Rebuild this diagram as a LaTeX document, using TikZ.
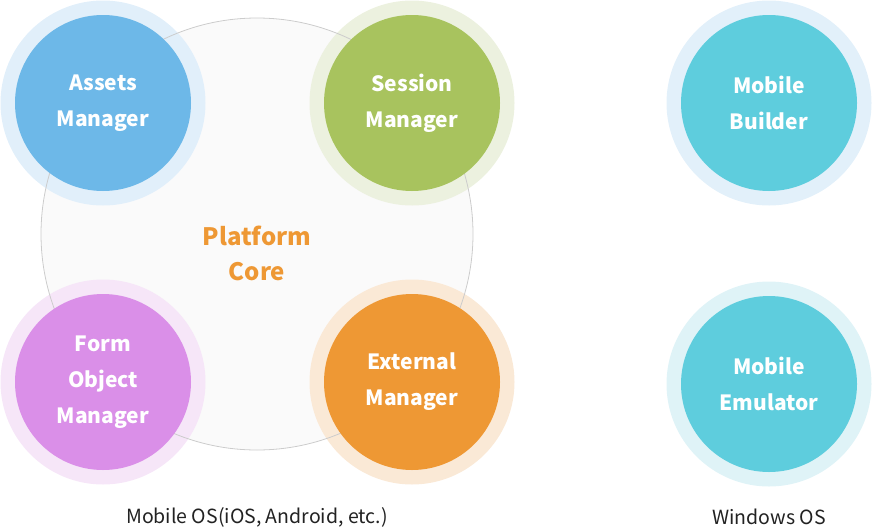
\documentclass[tikz,border=0pt]{standalone}
\usepackage{fontspec}
\setmainfont{Noto Sans CJK KR}
\usetikzlibrary{positioning}

\definecolor{assetsColor}{HTML}{6DB8E8}
\definecolor{assetsRing}{HTML}{E1EFFA}
\definecolor{sessionColor}{HTML}{A8C35E}
\definecolor{sessionRing}{HTML}{ECF1DF}
\definecolor{formColor}{HTML}{DA8FE8}
\definecolor{formRing}{HTML}{F6E6F8}
\definecolor{externalColor}{HTML}{EE9834}
\definecolor{externalRing}{HTML}{FAE9D6}
\definecolor{mobileColor}{HTML}{5ECDDD}
\definecolor{builderRing}{HTML}{E2F0FA}
\definecolor{emulatorRing}{HTML}{DFF3F7}
\definecolor{coreFill}{HTML}{FAFAFA}
\definecolor{coreLine}{HTML}{CCCCCC}
\definecolor{osText}{HTML}{222222}

\begin{document}
\begin{tikzpicture}[x=1pt,y=-1pt,
  ring/.style={circle, inner sep=0pt, minimum size=205pt},
  module/.style={circle, inner sep=0pt, minimum size=176pt, text=white,
    font=\fontsize{21}{36}\selectfont\bfseries, align=center},
  oslabel/.style={text=osText, font=\fontsize{19.5}{22}\selectfont}]

  \useasboundingbox (0,0) rectangle (872,528);

  % platform core
  \node[circle, inner sep=0pt, minimum size=432pt, fill=coreFill] (core) at (257,234) {};

  % outer rings
  \node[ring, fill=assetsRing] (assetsRing) at (103,103) {};
  \node[ring, fill=sessionRing] (sessionRing) at (412,103) {};
  \node[ring, fill=formRing] (formRing) at (103,382) {};
  \node[ring, fill=externalRing] (externalRing) at (412,382) {};
  \node[ring, fill=builderRing] (builderRing) at (769,103) {};
  \node[ring, fill=emulatorRing] (emulatorRing) at (769,384) {};

  \draw[coreLine, line width=0.8pt] (core.center) circle (216pt);

  % modules
  \node[module, fill=assetsColor] (assets) at (assetsRing) {Assets\\Manager};
  \node[module, fill=sessionColor] (session) at (sessionRing) {Session\\Manager};
  \node[module, fill=formColor] (form) at (formRing) {Form\\Object\\Manager};
  \node[module, fill=externalColor] (external) at (externalRing) {External\\Manager};
  \node[module, fill=mobileColor] (builder) at (builderRing) {Mobile\\Builder};
  \node[module, fill=mobileColor] (emulator) at (emulatorRing) {Mobile\\Emulator};

  \node[text=externalColor, font=\fontsize{24}{35}\selectfont\bfseries, align=center]
    (coreText) at (257,253) {Platform\\Core};

  \node[oslabel] (mobileOS) at (257,517) {Mobile OS(iOS, Android, etc.)};
  \node[oslabel] (windowsOS) at (769,517) {Windows OS};
\end{tikzpicture}
\end{document}
